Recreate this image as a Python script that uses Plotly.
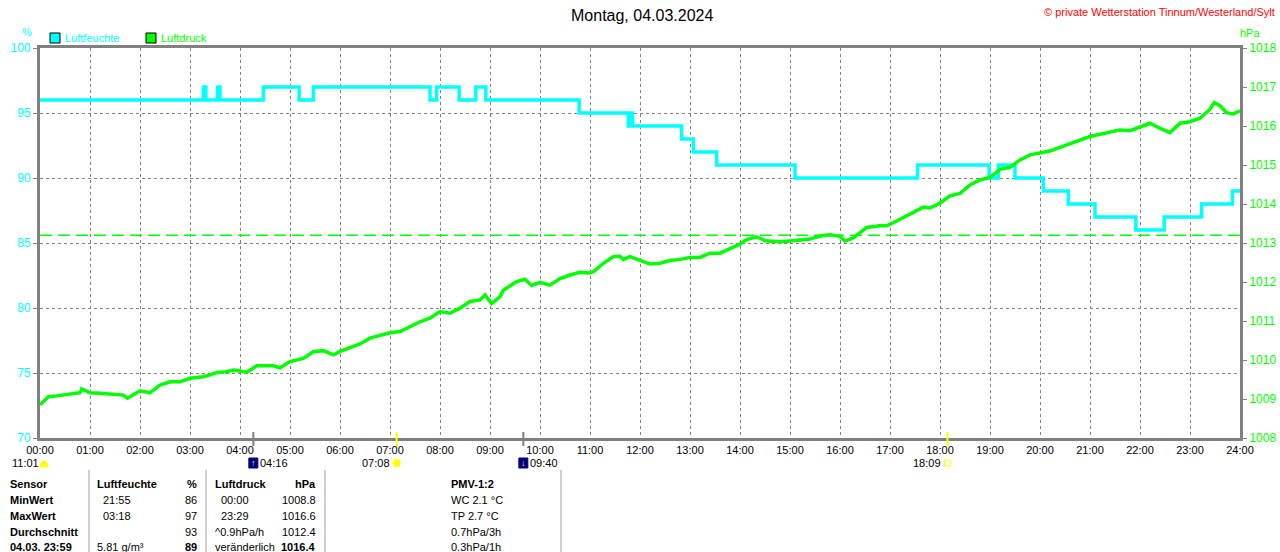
import plotly.graph_objects as go

# Luftfeuchte (%): Zeitpunkte der Aenderung und neuer Wert (Treppenkurve)
feuchte_zeit = ["00:00", "03:16", "03:19", "03:33", "03:36", "04:28", "05:11", "05:28",
                "07:48", "07:56", "08:23", "08:43", "08:55", "10:47", "11:46", "11:48",
                "11:51", "12:50", "13:04", "13:32", "15:06", "17:33", "18:59", "19:10",
                "19:30", "20:04", "20:34", "21:06", "21:55", "22:29", "23:14", "23:51", "24:00"]
feuchte_wert = [96, 97, 96, 97, 96, 97, 96, 97,
                96, 97, 96, 97, 96, 95, 94, 95,
                94, 93, 92, 91, 90, 91, 90, 91,
                90, 89, 88, 87, 86, 87, 88, 89, 89]

# Luftdruck (hPa)
druck_zeit = ["00:00", "00:05", "00:10", "00:20", "00:36", "00:48", "00:50", "01:00", "01:12",
              "01:40", "01:45", "02:00", "02:12", "02:24", "02:36", "02:48", "03:00", "03:16",
              "03:24", "03:32", "03:44", "03:52", "04:00", "04:08", "04:20", "04:40", "04:48",
              "05:00", "05:16", "05:28", "05:40", "05:52", "06:00", "06:12", "06:24", "06:36",
              "06:48", "07:00", "07:12", "07:24", "07:36", "07:48", "08:00", "08:12", "08:24",
              "08:36", "08:48", "08:54", "09:02", "09:12", "09:16", "09:32", "09:42", "09:50",
              "10:00", "10:12", "10:24", "10:36", "10:48", "10:58", "11:04", "11:16", "11:28",
              "11:36", "11:40", "11:48", "12:00", "12:12", "12:24", "12:36", "12:48", "13:00",
              "13:12", "13:24", "13:36", "13:48", "14:00", "14:08", "14:20", "14:30", "14:40",
              "14:48", "15:00", "15:12", "15:24", "15:36", "15:48", "16:00", "16:06", "16:16",
              "16:24", "16:32", "16:48", "16:56", "17:04", "17:16", "17:28", "17:40", "17:48",
              "18:00", "18:12", "18:24", "18:36", "18:48", "19:00", "19:12", "19:24", "19:36",
              "19:48", "20:00", "20:12", "20:24", "20:36", "20:48", "21:00", "21:12", "21:24",
              "21:36", "21:48", "22:00", "22:12", "22:24", "22:36", "22:48", "23:00", "23:12",
              "23:24", "23:29", "23:36", "23:44", "23:52", "24:00"]
druck_wert = [1008.85, 1008.97, 1009.06, 1009.08, 1009.13, 1009.16, 1009.26, 1009.16, 1009.15,
              1009.10, 1009.02, 1009.21, 1009.16, 1009.36, 1009.44, 1009.44, 1009.53, 1009.57,
              1009.62, 1009.68, 1009.70, 1009.74, 1009.72, 1009.68, 1009.85, 1009.85, 1009.80,
              1009.96, 1010.04, 1010.21, 1010.24, 1010.13, 1010.22, 1010.32, 1010.41, 1010.56,
              1010.64, 1010.70, 1010.73, 1010.85, 1010.98, 1011.07, 1011.24, 1011.20, 1011.33,
              1011.50, 1011.54, 1011.67, 1011.45, 1011.62, 1011.79, 1012.01, 1012.07, 1011.91,
              1011.99, 1011.92, 1012.09, 1012.18, 1012.25, 1012.23, 1012.26, 1012.48, 1012.65,
              1012.66, 1012.58, 1012.65, 1012.56, 1012.46, 1012.48, 1012.55, 1012.58, 1012.63,
              1012.63, 1012.74, 1012.74, 1012.86, 1012.97, 1013.09, 1013.16, 1013.06, 1013.05,
              1013.03, 1013.05, 1013.08, 1013.10, 1013.18, 1013.21, 1013.17, 1013.05, 1013.13,
              1013.26, 1013.40, 1013.44, 1013.44, 1013.52, 1013.66, 1013.80, 1013.92, 1013.90,
              1014.02, 1014.21, 1014.27, 1014.49, 1014.62, 1014.68, 1014.89, 1014.94, 1015.13,
              1015.26, 1015.32, 1015.36, 1015.45, 1015.54, 1015.64, 1015.73, 1015.79, 1015.85,
              1015.90, 1015.88, 1015.98, 1016.07, 1015.94, 1015.83, 1016.07, 1016.11, 1016.20,
              1016.43, 1016.60, 1016.52, 1016.34, 1016.31, 1016.39]

normaldruck = 1013.2

stunden = list(range(25))
stunden_text = ["00:00", "01:00", "02:00", "03:00", "04:00", "05:00", "06:00", "07:00",
                "08:00", "09:00", "10:00", "11:00", "12:00", "13:00", "14:00", "15:00",
                "16:00", "17:00", "18:00", "19:00", "20:00", "21:00", "22:00", "23:00", "24:00"]

mondaufgang = "04:16"
monduntergang = "09:40"
sonnenaufgang = "07:08"
sonnenuntergang = "18:09"
taglaenge = "11:01"

# Tabelle unter dem Diagramm
tab_sensor = ["Sensor", "MinWert", "MaxWert", "Durchschnitt", "04.03. 23:59"]
tab_feuchte_zeit = ["Luftfeuchte", "21:55", "03:18", "", "5.81 g/m³"]
tab_feuchte_wert = ["%", "86", "97", "93", "89"]
tab_druck_zeit = ["Luftdruck", "00:00", "23:29", "^0.9hPa/h", "veränderlich"]
tab_druck_wert = ["hPa", "1008.8", "1016.6", "1012.4", "1016.4"]
tab_pmv = ["PMV-1:2", "WC 2.1 °C", "TP 2.7 °C", "0.7hPa/3h", "0.3hPa/1h"]

CYAN = "#00ffff"
GRUEN = "#00ff00"
GRAU = "#808080"
GELB = "#ffff00"
FONT = "Liberation Sans"

L, R, T, B = 40, 1240, 48, 438


def px(x):
    return (x - L) / (R - L)


def py(y):
    return (B - y) / (B - T)


def hm(s):
    h, m = s.split(":")
    return int(h) + int(m) / 60


def txt(x, y, s, color="black", size=11, anchor="left"):
    return dict(x=px(x), y=py(y), xref="paper", yref="paper", text=s, showarrow=False,
                xanchor=anchor, yanchor="middle", font=dict(color=color, size=size))


def icon(t, typ, w, h, fill, line):
    # kleines Symbol unter der Zeitachse, Breite/Hoehe in Pixeln
    return dict(type=typ, xref="x", yref="paper", xsizemode="pixel", xanchor=hm(t),
                x0=-w / 2, x1=w / 2, y0=py(463 + h / 2), y1=py(463 - h / 2),
                fillcolor=fill, line=dict(color=line, width=1))


fig = go.Figure()

fig.add_trace(go.Scatter(
    x=[0, 24], y=[normaldruck, normaldruck], yaxis="y2", mode="lines",
    line=dict(color=GRUEN, width=1.5, dash="12px,6px"), hoverinfo="skip"))

fig.add_trace(go.Scatter(
    x=[hm(t) for t in druck_zeit], y=druck_wert, yaxis="y2", mode="lines",
    line=dict(color=GRUEN, width=3.5), name="Luftdruck"))

fig.add_trace(go.Scatter(
    x=[hm(t) for t in feuchte_zeit], y=feuchte_wert, mode="lines",
    line=dict(color=CYAN, width=3.5, shape="hv"), name="Luftfeuchte"))

ann = []
shapes = []

# Titel, Copyright, Einheiten, Legende
ann.append(txt(642, 15, "Montag, 04.03.2024", size=16, anchor="center"))
ann.append(txt(1277, 12, "© private Wetterstation Tinnum/Westerland/Sylt", color="#ff0000",
               size=11, anchor="right"))
ann.append(txt(27, 32, "%", color=CYAN, size=11, anchor="center"))
ann.append(txt(1250, 33, "hPa", color=GRUEN, size=11, anchor="center"))
ann.append(txt(63, 38, "Luftfeuchte", color=CYAN, size=11))
ann.append(txt(159, 38, "Luftdruck", color=GRUEN, size=11))
for x0, c in [(50, CYAN), (146, GRUEN)]:
    shapes.append(dict(type="rect", xref="paper", yref="paper", x0=px(x0), x1=px(x0 + 10),
                       y0=py(43), y1=py(33), fillcolor=c, line=dict(color="black", width=1)))

# Sonne / Mond
for t, c in [(mondaufgang, GRAU), (monduntergang, GRAU),
             (sonnenaufgang, GELB), (sonnenuntergang, GELB)]:
    shapes.append(dict(type="line", xref="x", yref="paper", x0=hm(t), x1=hm(t),
                       y0=py(446), y1=py(432), line=dict(color=c, width=2)))

ann.append(txt(10, 463, taglaenge))
shapes.append(dict(type="path", xref="paper", yref="paper", fillcolor=GELB,
                   line=dict(color=GELB, width=1),
                   path=f"M {px(40)},{py(467)} C {px(40)},{py(459)} {px(48)},{py(459)} "
                        f"{px(48)},{py(467)} Z"))
for t, pfeil in [(mondaufgang, "↑"), (monduntergang, "↓")]:
    shapes.append(icon(t, "rect", 9, 10, "#000080", "#000080"))
    ann.append(dict(x=hm(t), y=py(463), xref="x", yref="paper", text=pfeil, showarrow=False,
                    font=dict(color=GELB, size=9), xanchor="center", yanchor="middle"))
    ann.append(dict(x=hm(t), y=py(463), xref="x", yref="paper", text=t, showarrow=False,
                    xanchor="left", yanchor="middle", xshift=5, font=dict(size=11)))
ann.append(dict(x=hm(sonnenaufgang), y=py(463), xref="x", yref="paper", text="☀",
                showarrow=False, font=dict(color=GELB, size=14, family="DejaVu Sans"),
                xanchor="center", yanchor="middle"))
shapes.append(icon(sonnenaufgang, "circle", 7, 7, GELB, GELB))
shapes.append(icon(sonnenuntergang, "rect", 6, 6, "rgba(0,0,0,0)", GELB))
for t in [sonnenaufgang, sonnenuntergang]:
    ann.append(dict(x=hm(t), y=py(463), xref="x", yref="paper", text=t, showarrow=False,
                    xanchor="right", yanchor="middle", xshift=-5, font=dict(size=11)))

# Tabelle
zeilen_y = [484, 500, 516, 532, 547]
for i, y in enumerate(zeilen_y):
    kopf = i == 0
    ann.append(txt(8, y, f"<b>{tab_sensor[i]}</b>"))
    ann.append(txt(95 if kopf or i == 4 else 101, y,
                   f"<b>{tab_feuchte_zeit[i]}</b>" if kopf else tab_feuchte_zeit[i]))
    ann.append(txt(199, y, f"<b>{tab_feuchte_wert[i]}</b>" if kopf or i == 4
                   else tab_feuchte_wert[i], anchor="right"))
    ann.append(txt(213 if kopf or i >= 3 else 219, y,
                   f"<b>{tab_druck_zeit[i]}</b>" if kopf else tab_druck_zeit[i]))
    ann.append(txt(318, y, f"<b>{tab_druck_wert[i]}</b>" if kopf or i == 4
                   else tab_druck_wert[i], anchor="right"))
    ann.append(txt(449, y, f"<b>{tab_pmv[i]}</b>" if kopf else tab_pmv[i]))
for x in [89, 206, 325, 561]:
    shapes.append(dict(type="line", xref="paper", yref="paper", x0=px(x), x1=px(x),
                       y0=py(470), y1=py(552), line=dict(color="#a0a0a0", width=1)))

fig.update_layout(
    autosize=True, height=552,
    margin=dict(l=L, r=1280 - R, t=T, b=552 - B, pad=0),
    paper_bgcolor="white", plot_bgcolor="white",
    font=dict(family=FONT, size=11, color="black"),
    showlegend=False,
    xaxis=dict(range=[0, 24], tickvals=stunden, ticktext=stunden_text, showline=True,
               mirror=True, linecolor=GRAU, linewidth=3, showgrid=True, gridcolor=GRAU,
               gridwidth=1, griddash="3px,3px", zeroline=False, ticks="", tickfont=dict(size=11)),
    yaxis=dict(range=[70, 100], dtick=5, showline=True, linecolor=GRAU, linewidth=3,
               showgrid=True, gridcolor=GRAU, gridwidth=1, griddash="3px,3px", zeroline=False,
               ticks="outside", ticklen=4, tickcolor=GRAU, automargin=False,
               tickfont=dict(color=CYAN, size=12)),
    yaxis2=dict(range=[1008, 1018], dtick=1, overlaying="y", side="right", showline=True,
                linecolor=GRAU, linewidth=3, showgrid=False, zeroline=False, ticks="outside",
                ticklen=4, tickcolor=GRAU, automargin=False,
                tickfont=dict(color=GRUEN, size=12)),
    annotations=ann,
    shapes=shapes,
)

fig.write_html(
    "out.html",
    config={"displayModeBar": False, "responsive": True},
    default_width="100%", default_height="552px",
    post_script="document.body.style.margin='0';document.body.style.overflow='hidden';"
                "Plotly.Plots.resize(document.getElementById('{plot_id}'));",
)
